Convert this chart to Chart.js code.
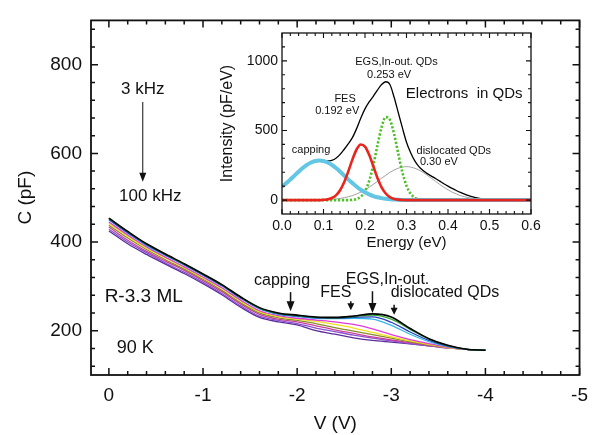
<!DOCTYPE html>
<html><head><meta charset="utf-8">
<script src="https://cdn.jsdelivr.net/npm/chart.js@4.4.0/dist/chart.umd.min.js"></script>
<style>
html,body{margin:0;padding:0;background:#fff;width:597px;height:435px;overflow:hidden}
#wrap{position:relative;width:597px;height:435px}
#main{position:absolute;left:0;top:0}
#inset{position:absolute;left:220px;top:18px}
</style></head><body>
<div id="wrap"><canvas id="main" width="597" height="435"></canvas><canvas id="inset" width="330" height="235"></canvas></div>
<script>
const FONT = "'Liberation Sans', Arial, Helvetica, sans-serif";
const INK = '#111';

// ---- Main C–V curves (V in volts, C in pF) ----
const voltage = [0,-0.2,-0.4,-0.6,-0.8,-1.0,-1.2,-1.4,-1.6,-1.8,-2.0,-2.2,-2.4,-2.6,-2.8,-3.0,-3.2,-3.4,-3.6,-3.8,-4.0];
const c3k   = [454,424,396,373,351,328,304,276,252,240,235,231,230,233,238,231,205,182,167,158,156];
const c5k   = [453,423,395,372,350,327,303,275,251,239,234,230,229,232,235,226,203,181,166,158,156];
const c7k   = [451,421,394,371,349,326,302,274,250,238,233,229,228,230,231,219,197,178,165,158,156];
const c10k  = [450,420,392,370,348,325,301,273,249,237,232,228,227,228,226,212,192,175,164,158,156];
const c15k  = [445,416,389,366,344,321,297,269,245,234,228,224,220,214,204,191,180,171,163,158,156];
const c20k  = [442,413,386,364,342,319,295,267,243,232,226,221,214,206,196,186,177,169,162,158,156];
const c30k  = [438,409,383,360,339,316,291,263,240,229,223,216,207,199,191,183,175,168,162,158,156];
const c50k  = [434,404,379,357,336,313,288,260,237,226,220,211,202,194,186,179,173,167,161,158,156];
const c70k  = [429,400,376,353,332,309,284,256,233,223,216,206,198,190,183,177,171,166,161,158,156];
const c100k = [425,396,372,350,329,306,281,253,230,220,213,200,192,184,178,174,170,166,162,158,156];
const mainSeries = [c3k,c5k,c7k,c10k,c15k,c20k,c30k,c50k,c70k,c100k];
const mainNames  = ['3 kHz','5 kHz','7 kHz','10 kHz','15 kHz','20 kHz','30 kHz','50 kHz','70 kHz','100 kHz'];
const mainColors = ['#000000','#2fa32f','#2340c0','#36b8ea','#e03cd8','#f0e21c','#8a8a28','#c8409a','#8a50d2','#5a2c9c'];
const mainXTicks = [0,-1,-2,-3,-4,-5];
const mainYTicks = [200,400,600,800];

// ---- Inset: intensity (pF/eV) vs energy (eV) ----
const energy = [0.00,0.01,0.02,0.03,0.04,0.05,0.06,0.07,0.08,0.09,0.10,0.11,0.12,0.13,0.14,0.15,0.16,0.17,0.18,0.19,0.20,0.21,0.22,0.23,0.24,0.25,0.26,0.27,0.28,0.29,0.30,0.31,0.32,0.33,0.34,0.35,0.36,0.37,0.38,0.39,0.40,0.41,0.42,0.43,0.44,0.45,0.46,0.47,0.48,0.49,0.50,0.51,0.52,0.53,0.54,0.55,0.56,0.57,0.58,0.59,0.60];
const iTotal   = [96,121,147,176,204,230,253,270,281,285,283,281,285,300,328,365,405,450,515,590,655,705,745,790,830,850,830,740,630,520,415,340,282,240,212,190,172,155,136,117,100,84,69,55,43,32,23,16,10,6,3,1,0,0,0,0,0,0,0,0,0];
const iCapping = [96,121,147,176,204,230,253,270,281,285,281,270,253,230,204,176,147,121,96,74,56,41,29,20,14,9,6,4,2,1,0,0,0,0,0,0,0,0,0,0,0,0,0,0,0,0,0,0,0,0,0,0,0,0,0,0,0,0,0,0,0];
const iFES     = [0,0,0,0,0,0,0,0,0,0,2,5,15,34,71,130,208,294,365,399,384,325,243,159,92,47,21,8,3,1,0,0,0,0,0,0,0,0,0,0,0,0,0,0,0,0,0,0,0,0,0,0,0,0,0,0,0,0,0,0,0];
const iEGS     = [0,0,0,0,0,0,0,0,0,0,0,0,0,0,0,0,0,2,8,25,63,137,251,393,524,596,577,476,335,201,102,45,17,5,1,0,0,0,0,0,0,0,0,0,0,0,0,0,0,0,0,0,0,0,0,0,0,0,0,0,0];
const iDisloc  = [0,0,0,0,0,0,0,0,1,1,2,3,5,8,12,17,24,32,44,57,74,92,113,134,157,178,199,216,229,237,240,237,229,216,199,178,157,134,113,92,74,57,44,32,24,17,12,8,5,3,2,1,1,0,0,0,0,0,0,0,0];
const insetXTicks = [0,0.1,0.2,0.3,0.4,0.5,0.6];
const insetYTicks = [0,500,1000];

const pts = (xs, ys) => xs.map((x, i) => ({x, y: ys[i]}));
const setTicks = vals => s => { s.ticks = vals.map(v => ({value: v})); };

function frameTicks(id, cfg) {
  return {
    id,
    afterDatasetsDraw(chart) {
      const {ctx, chartArea: a, scales: {x, y}} = chart;
      ctx.save();
      ctx.strokeStyle = INK;
      ctx.lineWidth = cfg.tw;
      ctx.beginPath();
      cfg.xt.forEach(t => {
        const px = x.getPixelForValue(t.v), L = t.m ? cfg.maj : cfg.min;
        ctx.moveTo(px, a.bottom); ctx.lineTo(px, a.bottom - L);
        ctx.moveTo(px, a.top); ctx.lineTo(px, a.top + L);
      });
      cfg.yt.forEach(t => {
        const py = y.getPixelForValue(t.v), L = t.m ? cfg.maj : cfg.min;
        ctx.moveTo(a.left, py); ctx.lineTo(a.left + L, py);
        ctx.moveTo(a.right, py); ctx.lineTo(a.right - L, py);
      });
      ctx.stroke();
      ctx.lineWidth = cfg.fw;
      ctx.strokeRect(a.left, a.top, a.right - a.left, a.bottom - a.top);
      ctx.restore();
    }
  };
}

// tick-mark positions (axis decoration)
const mainXT = []; for (let k = 0; k <= 25; k++) mainXT.push({v: -k * 0.2, m: k % 5 === 0});
const mainYT = []; for (let k = 3; k <= 22; k++) mainYT.push({v: k * 40, m: (k * 40) % 200 === 0});
const insXT = []; for (let k = 0; k <= 30; k++) insXT.push({v: k * 0.02, m: k % 5 === 0});
const insYT = []; for (let k = 0; k <= 11; k++) insYT.push({v: k * 100, m: k % 5 === 0});

const mainNotes = [
  {t:'3 kHz', x:-0.36, y:745, s:17},
  {t:'100 kHz', x:-0.44, y:503, s:17},
  {t:'R-3.3 ML', x:-0.37, y:277, s:19},
  {t:'90 K', x:-0.28, y:160, s:18},
  {t:'capping', x:-1.84, y:314, s:16},
  {t:'FES', x:-2.41, y:286, s:16},
  {t:'EGS,In-out.', x:-2.96, y:316, s:16},
  {t:'dislocated QDs', x:-3.57, y:286, s:16}
];
const mainArrows = [
  {x:-0.36, y0:716, y1:536, w:1, hw:3.5, hh:9},
  {x:-1.93, y0:287, y1:244, w:1.5, hw:4, hh:10},
  {x:-2.80, y0:289, y1:240, w:1.5, hw:4, hh:10}
];
const mainMarks = [
  {x:-2.57, y:246, hw:3.5, hh:7, stem:2},
  {x:-3.03, y:236, hw:3.5, hh:7, stem:3}
];

const mainNotesPlugin = {
  id: 'mainNotes',
  afterDatasetsDraw(chart) {
    const {ctx, scales: {x, y}} = chart;
    ctx.save();
    ctx.fillStyle = INK; ctx.strokeStyle = INK;
    ctx.textAlign = 'center'; ctx.textBaseline = 'middle';
    mainNotes.forEach(n => {
      ctx.font = n.s + 'px ' + FONT;
      ctx.fillText(n.t, x.getPixelForValue(n.x), y.getPixelForValue(n.y));
    });
    mainArrows.forEach(a => {
      const px = x.getPixelForValue(a.x), p0 = y.getPixelForValue(a.y0), p1 = y.getPixelForValue(a.y1);
      ctx.lineWidth = a.w;
      ctx.beginPath(); ctx.moveTo(px, p0); ctx.lineTo(px, p1 - a.hh + 1); ctx.stroke();
      ctx.beginPath(); ctx.moveTo(px - a.hw, p1 - a.hh); ctx.lineTo(px + a.hw, p1 - a.hh); ctx.lineTo(px, p1); ctx.closePath(); ctx.fill();
    });
    mainMarks.forEach(m => {
      const px = x.getPixelForValue(m.x), p1 = y.getPixelForValue(m.y);
      ctx.lineWidth = 1.5;
      ctx.beginPath(); ctx.moveTo(px, p1 - m.hh - m.stem); ctx.lineTo(px, p1 - m.hh + 1); ctx.stroke();
      ctx.beginPath(); ctx.moveTo(px - m.hw, p1 - m.hh); ctx.lineTo(px + m.hw, p1 - m.hh); ctx.lineTo(px, p1); ctx.closePath(); ctx.fill();
    });
    ctx.restore();
  }
};

new Chart(document.getElementById('main'), {
  type: 'line',
  data: {
    datasets: mainSeries.map((s, i) => ({
      label: mainNames[i], data: pts(voltage, s),
      borderColor: mainColors[i], borderWidth: i === 0 ? 1.6 : 1.3,
      pointRadius: 0, fill: false, cubicInterpolationMode: 'monotone'
    }))
  },
  options: {
    responsive: false, animation: false, events: [],
    layout: {padding: {left: 0, top: 11, right: 13, bottom: 0}},
    plugins: {legend: {display: false}, tooltip: {enabled: false}},
    scales: {
      x: {
        type: 'linear', reverse: true, min: -5, max: 0.19,
        afterBuildTicks: setTicks(mainXTicks),
        afterFit: s => { s.height = 60; },
        grid: {display: false, drawTicks: false}, border: {display: false},
        ticks: {padding: 9, color: INK, font: {family: FONT, size: 19},
                callback: v => String(Math.round(v))},
        title: {display: true, text: 'V (V)', color: INK, font: {family: FONT, size: 19}, padding: {top: 0, bottom: 0}}
      },
      y: {
        type: 'linear', min: 100, max: 900,
        afterBuildTicks: setTicks(mainYTicks),
        afterFit: s => { s.width = 91; },
        grid: {display: false, drawTicks: false}, border: {display: false},
        ticks: {padding: 9, color: INK, font: {family: FONT, size: 19}, callback: v => String(v)},
        title: {display: true, text: 'C (pF)', color: INK, font: {family: FONT, size: 19}, padding: {top: 14, bottom: 0}}
      }
    }
  },
  plugins: [frameTicks('mainFrame', {xt: mainXT, yt: mainYT, maj: 7, min: 4, tw: 1.5, fw: 1.8}), mainNotesPlugin]
});

// ---- Inset chart ----
const insetNotes = [
  {t:'EGS,In-out. QDs', x:0.276, y:990, s:11},
  {t:'0.253 eV', x:0.258, y:900, s:11},
  {t:'FES', x:0.152, y:729, s:11},
  {t:'0.192 eV', x:0.133, y:643, s:11},
  {t:'Electrons  in QDs', x:0.439, y:764, s:15},
  {t:'capping', x:0.070, y:357, s:11},
  {t:'dislocated QDs', x:0.414, y:350, s:11},
  {t:'0.30 eV', x:0.378, y:271, s:11}
];
const insetNotesPlugin = {
  id: 'insetNotes',
  afterDatasetsDraw(chart) {
    const {ctx, scales: {x, y}} = chart;
    ctx.save();
    ctx.fillStyle = INK; ctx.textAlign = 'center'; ctx.textBaseline = 'middle';
    insetNotes.forEach(n => {
      ctx.font = n.s + 'px ' + FONT;
      ctx.fillText(n.t, x.getPixelForValue(n.x), y.getPixelForValue(n.y));
    });
    ctx.restore();
  }
};

new Chart(document.getElementById('inset'), {
  type: 'line',
  data: {
    datasets: [
      {label: 'FES', data: pts(energy, iFES), borderColor: '#e8261e', borderWidth: 2.6, pointRadius: 0, cubicInterpolationMode: 'monotone'},
      {label: 'capping', data: pts(energy, iCapping), borderColor: '#62c6e4', borderWidth: 4, pointRadius: 0, cubicInterpolationMode: 'monotone'},
      {label: 'EGS', data: pts(energy, iEGS), borderColor: '#4fbf2a', borderWidth: 2.6, borderDash: [2.2, 1.8], pointRadius: 0, cubicInterpolationMode: 'monotone'},
      {label: 'dislocated', data: pts(energy, iDisloc), borderColor: '#8a8a8a', borderWidth: 0.8, pointRadius: 0, cubicInterpolationMode: 'monotone'},
      {label: 'total', data: pts(energy, iTotal), borderColor: '#000', borderWidth: 1.3, pointRadius: 0, cubicInterpolationMode: 'monotone'}
    ]
  },
  options: {
    responsive: false, animation: false, events: [],
    layout: {padding: {left: 0, top: 15, right: 19, bottom: 0}},
    plugins: {legend: {display: false}, tooltip: {enabled: false}},
    scales: {
      x: {
        type: 'linear', min: 0, max: 0.6,
        afterBuildTicks: setTicks(insetXTicks),
        afterFit: s => { s.height = 39; },
        grid: {display: false, drawTicks: false}, border: {display: false},
        ticks: {padding: 4, color: INK, font: {family: FONT, size: 14},
                callback: v => Number(v).toFixed(1)},
        title: {display: true, text: 'Energy (eV)', color: INK, font: {family: FONT, size: 15, lineHeight: 1}, padding: {top: 0, bottom: 3}}
      },
      y: {
        type: 'linear', min: -100, max: 1200,
        afterBuildTicks: setTicks(insetYTicks),
        afterFit: s => { s.width = 62; },
        grid: {display: false, drawTicks: false}, border: {display: false},
        ticks: {padding: 4, color: INK, font: {family: FONT, size: 14}, callback: v => String(v)},
        title: {display: true, text: 'Intensity (pF/eV)', color: INK, font: {family: FONT, size: 16, lineHeight: 1}, padding: {top: 0, bottom: 0}}
      }
    }
  },
  plugins: [frameTicks('insetFrame', {xt: insXT, yt: insYT, maj: 5, min: 3, tw: 1.1, fw: 1.3}), insetNotesPlugin]
});
</script>
</body></html>
